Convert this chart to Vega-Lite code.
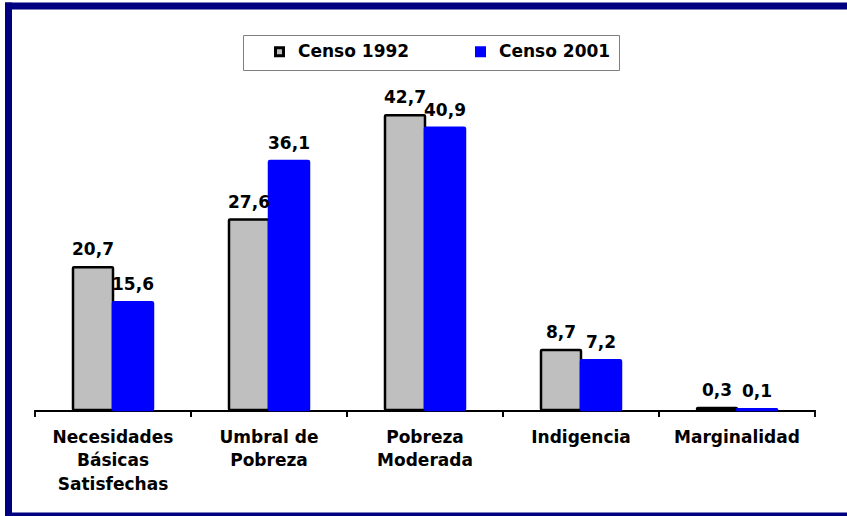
{
  "$schema": "https://vega.github.io/schema/vega-lite/v6.json",
  "width": 839,
  "height": 510,
  "autosize": {"type": "none"},
  "padding": {"left": 8, "top": 5.5, "right": 0, "bottom": 0.5},
  "background": "white",
  "config": {
    "font": "DejaVu Sans",
    "locale": {"number": {"decimal": ",", "thousands": ".", "grouping": [3], "currency": ["", ""]}},
    "view": {"stroke": null},
    "axisY": {"domainColor": "#000080", "domainWidth": 7, "domainCap": "square", "ticks": false, "labels": false, "grid": false},
    "legend": {
      "orient": "none",
      "legendX": 235,
      "legendY": 29.5,
      "direction": "horizontal",
      "padding": 8,
      "strokeColor": "#7f7f7f",
      "symbolType": "square",
      "symbolSize": 64,
      "symbolStrokeWidth": 3,
      "symbolOffset": 20,
      "labelOffset": 10,
      "labelFont": "DejaVu Sans",
      "labelFontSize": 17,
      "labelFontWeight": "bold",
      "labelColor": "black",
      "columnPadding": 42
    }
  },
  "datasets": {
    "censo": [
      {"categoria": "Necesidades Básicas Satisfechas", "serie": "Censo 1992", "valor": 20.7},
      {"categoria": "Necesidades Básicas Satisfechas", "serie": "Censo 2001", "valor": 15.6},
      {"categoria": "Umbral de Pobreza", "serie": "Censo 1992", "valor": 27.6},
      {"categoria": "Umbral de Pobreza", "serie": "Censo 2001", "valor": 36.1},
      {"categoria": "Pobreza Moderada", "serie": "Censo 1992", "valor": 42.7},
      {"categoria": "Pobreza Moderada", "serie": "Censo 2001", "valor": 40.9},
      {"categoria": "Indigencia", "serie": "Censo 1992", "valor": 8.7},
      {"categoria": "Indigencia", "serie": "Censo 2001", "valor": 7.2},
      {"categoria": "Marginalidad", "serie": "Censo 1992", "valor": 0.3},
      {"categoria": "Marginalidad", "serie": "Censo 2001", "valor": 0.1}
    ]
  },
  "data": {"name": "censo"},
  "resolve": {"axis": {"x": "independent"}},
  "layer": [
    {
      "mark": {"type": "bar", "color": "black"},
      "encoding": {
        "x": {"field": "categoria", "type": "nominal", "title": null,
          "scale": {"domain": ["Necesidades Básicas Satisfechas", "Umbral de Pobreza", "Pobreza Moderada", "Indigencia", "Marginalidad"], "paddingInner": 0, "paddingOuter": 0.1891, "align": 0.4576},
          "axis": null},
        "y": {"datum": 0, "type": "quantitative", "title": null, "scale": {"domain": [-15.29, 58.62], "nice": false, "zero": false}},
        "y2": {"datum": -0.29}
      }
    },
    {
      "mark": {"type": "rule", "color": "black", "strokeWidth": 1.5},
      "encoding": {
        "x": {"field": "categoria", "type": "nominal", "title": null, "bandPosition": 0, "axis": null,
          "scale": {"domain": ["Necesidades Básicas Satisfechas", "Umbral de Pobreza", "Pobreza Moderada", "Indigencia", "Marginalidad"], "paddingInner": 0, "paddingOuter": 0.1891, "align": 0.4576}},
        "y": {"datum": 0, "type": "quantitative", "title": null, "scale": {"domain": [-15.29, 58.62], "nice": false, "zero": false}},
        "y2": {"datum": -1.0}
      }
    },
    {
      "mark": {"type": "rule", "color": "black", "strokeWidth": 1.5},
      "encoding": {
        "x": {"field": "categoria", "type": "nominal", "title": null, "bandPosition": 1, "axis": null,
          "scale": {"domain": ["Necesidades Básicas Satisfechas", "Umbral de Pobreza", "Pobreza Moderada", "Indigencia", "Marginalidad"], "paddingInner": 0, "paddingOuter": 0.1891, "align": 0.4576}},
        "y": {"datum": 0, "type": "quantitative", "title": null, "scale": {"domain": [-15.29, 58.62], "nice": false, "zero": false}},
        "y2": {"datum": -1.0}
      }
    },
    {
      "mark": {"type": "bar", "strokeWidth": 2.5, "cornerRadius": 1},
      "encoding": {
        "x": {"field": "categoria", "type": "nominal", "title": null,
          "scale": {"domain": ["Necesidades Básicas Satisfechas", "Umbral de Pobreza", "Pobreza Moderada", "Indigencia", "Marginalidad"], "paddingInner": 0, "paddingOuter": 0.1891, "align": 0.4576},
          "axis": {
            "orient": "bottom", "domainColor": "#000080", "domainWidth": 7, "domainCap": "square", "ticks": false,
            "labelPadding": -86.5, "labelAngle": 0,
            "labelFont": "DejaVu Sans", "labelFontSize": 17, "labelFontWeight": "bold", "labelColor": "black",
            "labelLineHeight": 23.5, "labelBaseline": "top", "labelLimit": 400,
            "labelExpr": "datum.value == 'Necesidades Básicas Satisfechas' ? ['Necesidades', 'Básicas', 'Satisfechas'] : datum.value == 'Umbral de Pobreza' ? ['Umbral de', 'Pobreza'] : datum.value == 'Pobreza Moderada' ? ['Pobreza', 'Moderada'] : datum.label"
          }},
        "xOffset": {"field": "serie", "type": "nominal", "scale": {"domain": ["Censo 1992", "Censo 2001"], "paddingInner": 0, "paddingOuter": 0.95}},
        "y": {"field": "valor", "type": "quantitative", "title": null, "scale": {"domain": [-15.29, 58.62], "nice": false, "zero": false}},
        "y2": {"datum": 0},
        "color": {"field": "serie", "type": "nominal", "title": null, "scale": {"domain": ["Censo 1992", "Censo 2001"], "range": ["#bfbfbf", "#0000ff"]}},
        "stroke": {"field": "serie", "type": "nominal", "title": null, "scale": {"domain": ["Censo 1992", "Censo 2001"], "range": ["#000000", "#0000ff"]}}
      }
    },
    {
      "mark": {"type": "text", "font": "DejaVu Sans", "fontSize": 17, "fontWeight": "bold", "baseline": "alphabetic", "dy": -12, "color": "black"},
      "encoding": {
        "x": {"field": "categoria", "type": "nominal", "title": null,
          "scale": {"domain": ["Necesidades Básicas Satisfechas", "Umbral de Pobreza", "Pobreza Moderada", "Indigencia", "Marginalidad"], "paddingInner": 0, "paddingOuter": 0.1891, "align": 0.4576},
          "axis": {"orient": "top", "domainColor": "#000080", "domainWidth": 7, "domainCap": "square", "ticks": false, "labels": false}},
        "xOffset": {"field": "serie", "type": "nominal", "scale": {"domain": ["Censo 1992", "Censo 2001"], "paddingInner": 0, "paddingOuter": 0.95}},
        "y": {"field": "valor", "type": "quantitative", "title": null, "scale": {"domain": [-15.29, 58.62], "nice": false, "zero": false}},
        "text": {"field": "valor", "type": "quantitative", "format": ".1f"}
      }
    }
  ]
}
